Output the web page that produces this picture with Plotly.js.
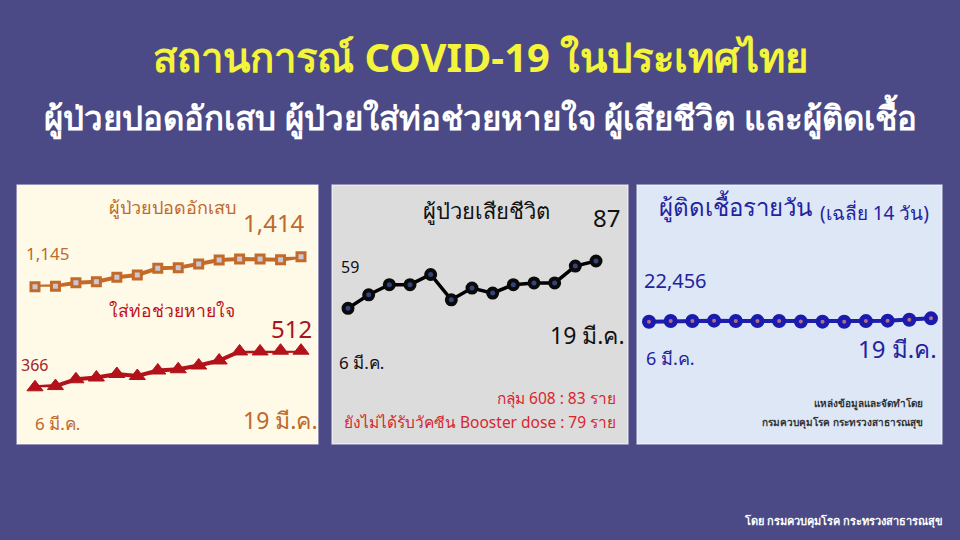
<!DOCTYPE html>
<html>
<head>
<meta charset="utf-8">
<script src="https://cdn.plot.ly/plotly-3.0.1.min.js"></script>
<style>
  html, body { margin: 0; padding: 0; background: #4B4A86; }
  #chart { width: 960px; height: 540px; }
</style>
</head>
<body>
<div id="chart"></div>
<script>
// Daily figures, 6–19 March
const days = [6, 7, 8, 9, 10, 11, 12, 13, 14, 15, 16, 17, 18, 19];
const pneumonia = [1145, 1150, 1181, 1190, 1229, 1250, 1310, 1316, 1348, 1384, 1393, 1393, 1387, 1414];
const ventilated = [366, 371, 398, 405, 419, 411, 433, 438, 453, 473, 509, 509, 512, 512];
const deathDays = [7, 8, 9, 10, 11, 12, 13, 14, 15, 16, 17, 18, 19];
const deaths = [59, 67, 73, 73, 79, 64, 71, 68, 73, 74, 74, 84, 87];
const infections = [22456, 22538, 22551, 22590, 22547, 22532, 22549, 22470, 22461, 22452, 22535, 22594, 22712, 22893];

const W = 960, H = 540;
const px = v => v / W;
const py = v => 1 - v / H;
const FONT = 'Noto Sans, DejaVu Sans, sans-serif';

const traces = [
  {
    x: days, y: pneumonia, xaxis: 'x', yaxis: 'y', mode: 'lines+markers', cliponaxis: false,
    line: {color: '#C46A28', width: 4},
    marker: {symbol: 'square', size: 8, color: '#C9C6D8', line: {color: '#C46A28', width: 3}},
    hoverinfo: 'y'
  },
  {
    x: days, y: ventilated, xaxis: 'x', yaxis: 'y2', mode: 'lines+markers', cliponaxis: false,
    line: {color: '#B3121A', width: 4},
    marker: {symbol: 'triangle-up', size: 14, color: '#B3121A', line: {color: '#B3121A', width: 1}},
    hoverinfo: 'y'
  },
  {
    x: deathDays, y: deaths, xaxis: 'x2', yaxis: 'y3', mode: 'lines+markers', cliponaxis: false,
    line: {color: '#000000', width: 3.5},
    marker: {symbol: 'circle', size: 9, color: '#34447A', line: {color: '#0A0A0A', width: 4}},
    hoverinfo: 'y'
  },
  {
    x: days, y: infections, xaxis: 'x3', yaxis: 'y4', mode: 'lines+markers', cliponaxis: false,
    line: {color: '#1E1EA8', width: 4},
    marker: {symbol: 'circle', size: 9, color: '#B07080', line: {color: '#1A1AAE', width: 5}},
    hoverinfo: 'y'
  }
];

const hidden = {visible: false, showgrid: false, zeroline: false, fixedrange: true};

function txt(text, x, y, size, color, opts) {
  return Object.assign({
    text: text, x: px(x), y: py(y), xref: 'paper', yref: 'paper',
    xanchor: 'center', yanchor: 'middle', showarrow: false,
    font: {family: FONT, size: size, color: color}
  }, opts || {});
}

const brown = '#BD6A2C';
const navy = '#2323A0';

const annotations = [
  // header
  txt('<b>สถานการณ์ COVID-19 ในประเทศไทย</b>', 480, 56, 40, '#F4F43A'),
  txt('<b>ผู้ป่วยปอดอักเสบ ผู้ป่วยใส่ท่อช่วยหายใจ ผู้เสียชีวิต และผู้ติดเชื้อ</b>', 480, 117, 33, '#FFFFFF'),
  // panel 1
  txt('ผู้ป่วยปอดอักเสบ', 172, 207, 18, brown),
  txt('1,414', 274, 222, 24, brown),
  txt('1,145', 47, 253, 17, brown),
  txt('ใส่ท่อช่วยหายใจ', 172, 310, 17.5, '#C0101A'),
  txt('512', 291, 328, 24, '#A8141C'),
  txt('366', 19, 365, 16, '#A0262A', {xanchor: 'left'}),
  txt('6 มี.ค.', 57, 423, 17, brown),
  txt('19 มี.ค.', 280, 420, 23, brown),
  // panel 2
  txt('ผู้ป่วยเสียชีวิต', 486, 210, 22, '#111111'),
  txt('87', 606, 217, 24, '#111111'),
  txt('59', 350, 267, 16, '#111111'),
  txt('19 มี.ค.', 587, 335, 23, '#111111'),
  txt('6 มี.ค.', 361, 362, 17, '#111111'),
  txt('กลุ่ม 608 : 83 ราย', 618, 398, 15.5, '#D8262E', {xanchor: 'right'}),
  txt('ยังไม่ได้รับวัคซีน Booster dose : 79 ราย', 618, 422, 15.5, '#D8262E', {xanchor: 'right'}),
  // panel 3
  txt('ผู้ติดเชื้อรายวัน', 735, 207, 24, navy),
  txt('(เฉลี่ย 14 วัน)', 874, 213, 19, navy),
  txt('22,456', 675, 280, 20, navy),
  txt('6 มี.ค.', 670, 358, 18, navy),
  txt('19 มี.ค.', 897, 348, 24, navy),
  txt('<b>แหล่งข้อมูลและจัดทำโดย</b>', 925, 403, 10, '#333333', {xanchor: 'right'}),
  txt('<b>กรมควบคุมโรค กระทรวงสาธารณสุข</b>', 925, 422, 10, '#333333', {xanchor: 'right'}),
  // footer
  txt('<b>โดย กรมควบคุมโรค กระทรวงสาธารณสุข</b>', 945, 521, 11, '#FFFFFF', {xanchor: 'right'})
];

function panel(x0, x1, fill) {
  return {
    type: 'rect', xref: 'paper', yref: 'paper', layer: 'below',
    x0: px(x0), x1: px(x1), y0: py(444), y1: py(185),
    fillcolor: fill, line: {color: 'rgba(255,255,255,0.55)', width: 1.5}
  };
}

const layout = {
  width: W, height: H,
  margin: {l: 0, r: 0, t: 0, b: 0},
  paper_bgcolor: '#4B4A86',
  plot_bgcolor: 'rgba(0,0,0,0)',
  showlegend: false,
  font: {family: FONT},
  shapes: [
    panel(17, 318, '#FFF9E8'),
    panel(332, 628, '#DCDCDC'),
    panel(637, 942, '#DDE7F5')
  ],
  xaxis: Object.assign({}, hidden, {domain: [px(35), px(301)], range: [6, 19], anchor: 'y'}),
  yaxis: Object.assign({}, hidden, {domain: [py(286.7), py(256.7)], range: [1145, 1414], anchor: 'x'}),
  yaxis2: Object.assign({}, hidden, {domain: [py(387.3), py(350.7)], range: [366, 512], anchor: 'x'}),
  xaxis2: Object.assign({}, hidden, {domain: [px(348), px(596)], range: [7, 19], anchor: 'y3'}),
  yaxis3: Object.assign({}, hidden, {domain: [py(308.3), py(261)], range: [59, 87], anchor: 'x2'}),
  xaxis3: Object.assign({}, hidden, {domain: [px(649), px(931)], range: [6, 19], anchor: 'y4'}),
  yaxis4: Object.assign({}, hidden, {domain: [py(331.3), py(311.4)], range: [21200, 23800], anchor: 'x3'}),
  annotations: annotations
};

Plotly.newPlot('chart', traces, layout, {displayModeBar: false, staticPlot: true});
</script>
</body>
</html>
